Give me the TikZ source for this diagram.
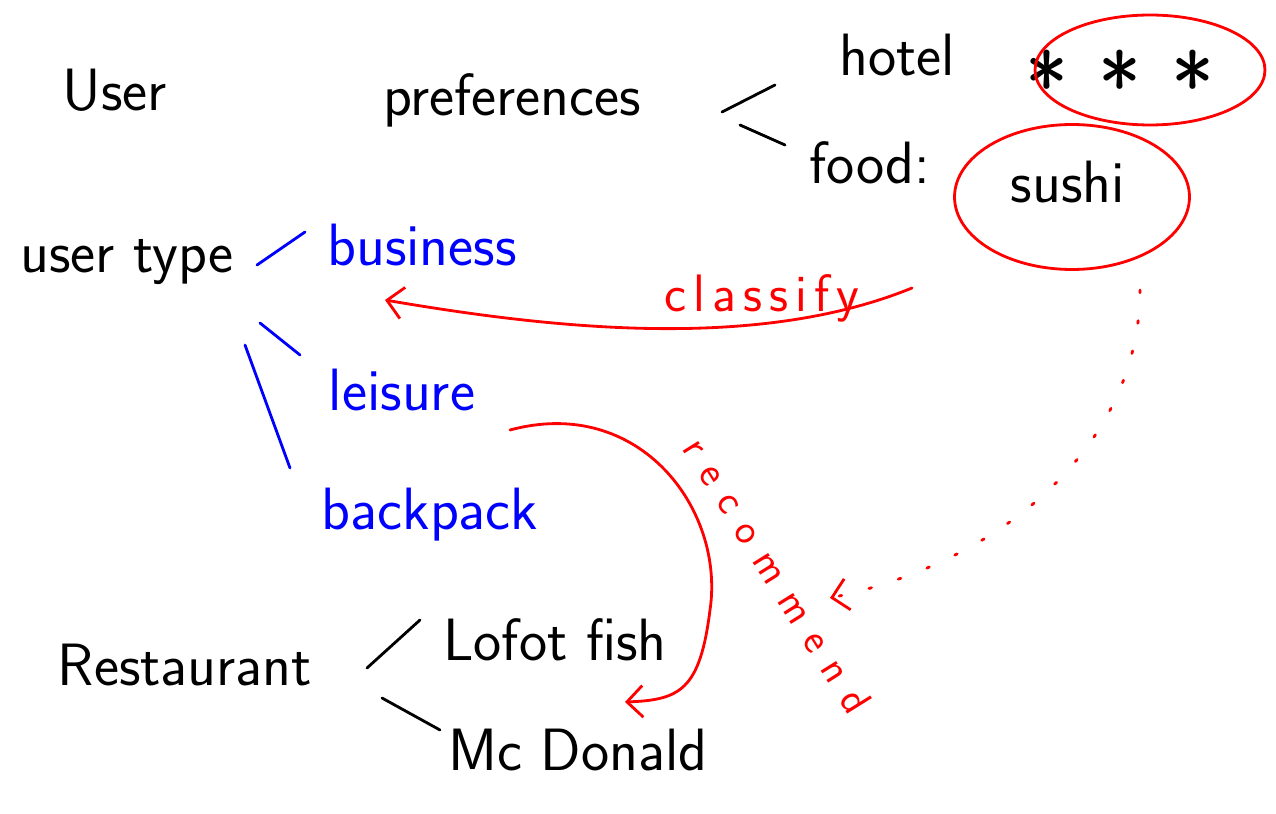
\documentclass[tikz,border=0pt]{standalone}
\usepackage{fontspec}
\usetikzlibrary{arrows.meta,shapes.geometric,calc}
% letter gaps for the widely spaced red labels
\newcommand{\narrowgap}{\hspace{4pt}}
\newcommand{\widegap}{\hspace{9pt}}

\begin{document}
\begin{tikzpicture}[x=0.02cm,y=-0.02cm,
  hand/.style={font=\sffamily\fontsize{34}{40}\selectfont, inner sep=0pt},
  bluehand/.style={hand, text=blue},
  redhand/.style={font=\sffamily\fontsize{30}{34}\selectfont, text=red, inner sep=0pt},
  slanthand/.style={font=\sffamily\fontsize{24}{28}\selectfont, text=red, inner sep=0pt},
  ink/.style={line width=1.6pt, line cap=round},
  blackink/.style={ink, draw=black},
  blueink/.style={ink, draw=blue},
  redink/.style={ink, draw=red},
  ring/.style={redink, ellipse, inner sep=0pt},
  barb/.style={-{Straight Barb[length=9pt,width=18pt,line width=1.6pt]}}
]
\useasboundingbox (0,0) rectangle (1276,814);

% --- left column: user ---
\node[hand] (user) at (115,90) {User};
\node[hand] (usertype) at (127,262) {user type};
\node[hand] (restaurant) at (185,665) {Restaurant};

% --- preferences ---
\node[hand] (pref) at (512,100) {preferences};
\node[hand] (hotel) at (897,55) {hotel};
\node[hand] (food) at (870,163) {food:};
\node[font=\sffamily\fontsize{52}{52}\selectfont, inner sep=0pt] (stars) at (1120,84) {*\,\,*\,\,*};
\node[hand] (sushi) at (1068,182) {sushi};
\node[ring, minimum width=4.6cm, minimum height=2.2cm] (starsring) at (1150,70) {};
\node[ring, minimum width=4.7cm, minimum height=2.9cm] (sushiring) at (1072,197) {};

% --- user types ---
\node[bluehand] (business) at (422,245) {business};
\node[bluehand] (leisure) at (402,390) {leisure};
\node[bluehand] (backpack) at (430,515) {backpack};

% --- restaurants ---
\node[hand] (lofot) at (555,640) {Lofot fish};
\node[hand] (mcdonald) at (578,750) {Mc Donald};

% --- red labels ---
\node[redhand] (classify) at (762,298)
  {c\narrowgap l\narrowgap a\narrowgap s\narrowgap s\narrowgap i\narrowgap f\narrowgap y};
\node[slanthand, rotate=-58] (recommend) at (778,575)
  {r\widegap e\widegap c\widegap o\widegap m\widegap m\widegap e\widegap n\widegap d};

% --- stroke ends of the short branch marks ---
\coordinate (p1a) at (722,112); \coordinate (p1b) at (775,85);
\coordinate (p2a) at (740,125); \coordinate (p2b) at (785,145);
\coordinate (u1a) at (257,265); \coordinate (u1b) at (305,232);
\coordinate (u2a) at (260,323); \coordinate (u2b) at (300,355);
\coordinate (u3a) at (245,345); \coordinate (u3b) at (290,468);
\coordinate (r1a) at (367,668); \coordinate (r1b) at (420,620);
\coordinate (r2a) at (382,698); \coordinate (r2b) at (440,730);

\draw[blackink] (p1a) -- (p1b);
\draw[blackink] (p2a) -- (p2b);
\draw[blueink] (u1a) -- (u1b);
\draw[blueink] (u2a) -- (u2b);
\draw[blueink] (u3a) -- (u3b);
\draw[blackink] (r1a) -- (r1b);
\draw[blackink] (r2a) -- (r2b);

% --- classify: food preference to business ---
\coordinate (clsfrom) at (912,288);
\coordinate (clsto) at (385,300);
\draw[redink, barb] (clsfrom) .. controls (760,350) and (560,330) .. (clsto);

% --- recommend: leisure to Lofot fish ---
\coordinate (recfrom) at (510,430);
\coordinate (recmid) at (710,610);
\coordinate (recto) at (625,702);
\draw[redink, barb] (recfrom) .. controls (640,395) and (725,510) .. (recmid)
  .. controls (700,690) and (680,700) .. (recto);

% --- dotted link from sushi ---
\coordinate (dotfrom) at (1140,290);
\coordinate (dotto) at (830,598);
\draw[redink, dash pattern=on 1.5pt off 16pt, barb] (dotfrom) .. controls (1140,440) and (1010,560) .. (dotto);
\end{tikzpicture}
\end{document}
